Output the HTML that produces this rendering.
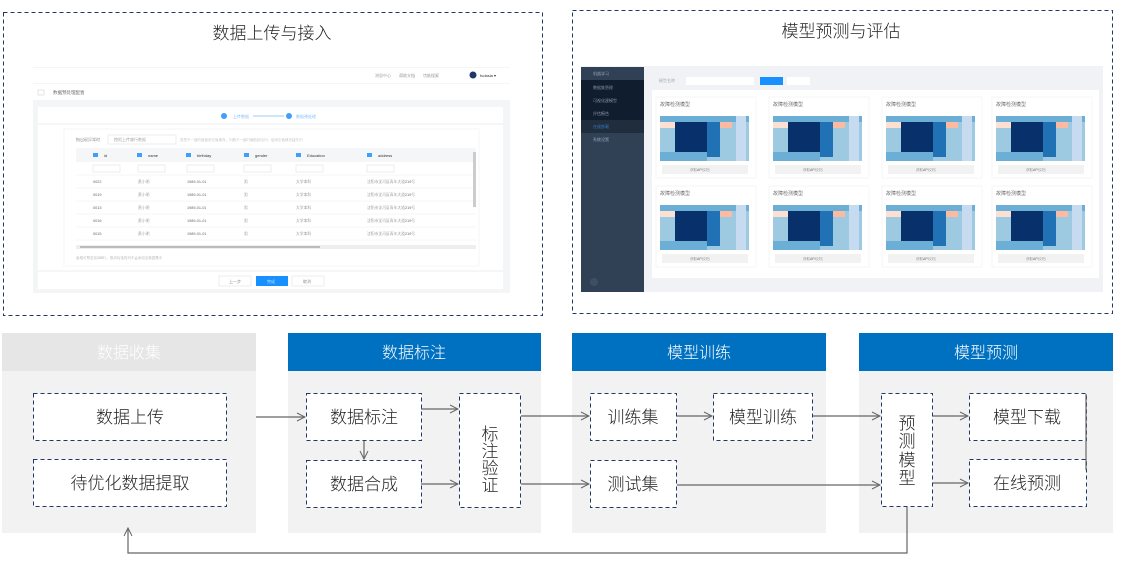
<!DOCTYPE html>
<html><head><meta charset="utf-8"><style>
html,body{margin:0;padding:0;background:#fff;width:1122px;height:561px;overflow:hidden}
text{font-family:"Liberation Sans","Noto Sans CJK SC",sans-serif;font-weight:300}
</style></head><body>
<svg width="1122" height="561" viewBox="0 0 1122 561" xmlns="http://www.w3.org/2000/svg">
<defs>
<marker id="a" markerWidth="10" markerHeight="10" refX="9" refY="5" orient="auto" markerUnits="userSpaceOnUse">
<path d="M1,1 L9,5 L1,9" fill="none" stroke="#666" stroke-width="1"/></marker>
</defs>
<rect x="3.5" y="12.5" width="539" height="303" fill="#fff" stroke="#1f3864" stroke-dasharray="4,3"/>
<rect x="572.5" y="10.5" width="540" height="303" fill="#fff" stroke="#1f3864" stroke-dasharray="4,3"/>
<text x="272" y="39" font-size="17" text-anchor="middle" fill="#222">数据上传与接入</text>
<text x="841" y="37" font-size="17" text-anchor="middle" fill="#222">模型预测与评估</text>

<g>
<rect x="33" y="67" width="477" height="226" fill="#f4f5f7"/>
<rect x="33" y="68" width="477" height="15" fill="#fff"/>
<text x="375" y="77" font-size="4" fill="#666">消息中心　　帮助文档　　功能搜索</text>
<circle cx="473" cy="75" r="3.5" fill="#1f3864"/>
<text x="480" y="77" font-size="4" fill="#333">fudasia ▾</text>
<rect x="33" y="84" width="477" height="16" fill="#fff"/>
<rect x="38" y="90" width="6" height="5" fill="none" stroke="#ccc" stroke-width="0.5"/>
<text x="53" y="94" font-size="4.5" fill="#333">数据预处理配置</text>
<rect x="38" y="107" width="465" height="182" fill="#fff"/>
<circle cx="224" cy="116" r="3" fill="#409eff"/><circle cx="289" cy="116" r="3" fill="#409eff"/>
<line x1="253" y1="116" x2="284" y2="116" stroke="#9ec9f7" stroke-width="1"/>
<text x="233" y="118" font-size="4" fill="#409eff">上传数据</text>
<text x="296" y="118" font-size="4" fill="#409eff">数据预处理</text>
<line x1="38" y1="124" x2="503" y2="124" stroke="#eee"/>
<rect x="64" y="129" width="415" height="137" fill="#fff" stroke="#eee" stroke-width="0.5"/>
<text x="76" y="141" font-size="4" fill="#555">指出现异常时</text>
<rect x="108" y="135" width="68" height="9" fill="#fff" stroke="#ddd" stroke-width="0.5"/>
<text x="114" y="141" font-size="4" fill="#777">按照上传顺行数据</text>
<text x="180" y="141" font-size="3.5" fill="#aaa">类型不一致的值使用空值填充，列数不一致时截断超出列，使用空值填充缺失列</text>
<rect x="76" y="148" width="400" height="14" fill="#f5f6f8"/>
<g font-size="4" fill="#333">
<rect x="93" y="153" width="5" height="4" fill="#409eff"/><text x="104" y="157">id</text>
<rect x="137" y="153" width="5" height="4" fill="#409eff"/><text x="148" y="157">name</text>
<rect x="186" y="153" width="5" height="4" fill="#409eff"/><text x="197" y="157">birthday</text>
<rect x="244" y="153" width="5" height="4" fill="#409eff"/><text x="255" y="157">gender</text>
<rect x="296" y="153" width="5" height="4" fill="#409eff"/><text x="307" y="157">Education</text>
<rect x="367" y="153" width="5" height="4" fill="#409eff"/><text x="378" y="157">address</text>
</g>
<g fill="#fff" stroke="#ddd" stroke-width="0.5">
<rect x="93" y="165" width="27" height="7"/><rect x="138" y="165" width="27" height="7"/><rect x="187" y="165" width="27" height="7"/><rect x="244" y="165" width="27" height="7"/><rect x="296" y="165" width="27" height="7"/><rect x="367" y="165" width="27" height="7"/>
</g>
<g font-size="3.8" fill="#666">
<text x="93" y="183">0022</text><text x="138" y="183">黄小明</text><text x="187" y="183">1989-01-01</text><text x="244" y="183">男</text><text x="296" y="183">大学本科</text><text x="367" y="183">沈阳市沈河区青年大道219号</text>
<text x="93" y="196">0019</text><text x="138" y="196">黄小明</text><text x="187" y="196">1989-01-01</text><text x="244" y="196">男</text><text x="296" y="196">大学本科</text><text x="367" y="196">沈阳市沈河区青年大道219号</text>
<text x="93" y="209">0013</text><text x="138" y="209">黄小明</text><text x="187" y="209">1989-01-01</text><text x="244" y="209">男</text><text x="296" y="209">大学本科</text><text x="367" y="209">沈阳市沈河区青年大道219号</text>
<text x="93" y="222">0016</text><text x="138" y="222">黄小明</text><text x="187" y="222">1989-01-01</text><text x="244" y="222">男</text><text x="296" y="222">大学本科</text><text x="367" y="222">沈阳市沈河区青年大道219号</text>
<text x="93" y="235">0015</text><text x="138" y="235">黄小明</text><text x="187" y="235">1989-01-01</text><text x="244" y="235">男</text><text x="296" y="235">大学本科</text><text x="367" y="235">沈阳市沈河区青年大道219号</text>
</g>
<g stroke="#eee" stroke-width="0.5"><line x1="76" y1="175" x2="476" y2="175"/><line x1="76" y1="188" x2="476" y2="188"/><line x1="76" y1="201" x2="476" y2="201"/><line x1="76" y1="214" x2="476" y2="214"/><line x1="76" y1="227" x2="476" y2="227"/><line x1="76" y1="240" x2="476" y2="240"/></g>
<rect x="76" y="245" width="400" height="4" fill="#eee"/><rect x="80" y="246" width="240" height="2" fill="#bbb"/>
<rect x="473" y="152" width="3" height="55" fill="#ccc"/>
<text x="76" y="259" font-size="3.5" fill="#999">表格可预览前100行，取消勾选的列不会添加至数据集中</text>
<line x1="38" y1="271" x2="503" y2="271" stroke="#eee"/>
<rect x="219" y="276" width="32" height="10" fill="#fff" stroke="#ddd" stroke-width="0.5"/>
<rect x="256" y="276" width="32" height="10" fill="#1890ff"/>
<rect x="292" y="276" width="32" height="10" fill="#fff" stroke="#ddd" stroke-width="0.5"/>
<text x="229" y="283" font-size="4" fill="#555">上一步</text><text x="267" y="283" font-size="4" fill="#fff">完成</text><text x="303" y="283" font-size="4" fill="#555">取消</text>
</g>

<g>
<rect x="581" y="66" width="522" height="226" fill="#f0f2f5"/>
<rect x="581" y="67" width="63" height="225" fill="#304156"/>
<rect x="581" y="80" width="63" height="40" fill="#0f1d2e"/>
<rect x="581" y="120" width="63" height="13" fill="#1f2d3d"/>
<g font-size="4" fill="#bfcbd9">
<text x="593" y="75">机器学习</text><text x="593" y="89">数据集管理</text><text x="593" y="102">可视化建模型</text><text x="593" y="115">评估报告</text>
<text x="593" y="128" fill="#409eff">在线部署</text><text x="593" y="141">系统设置</text></g>
<circle cx="594" cy="282" r="4" fill="#3d4f66"/>
<rect x="652" y="73" width="447" height="14" fill="#f0f2f5"/>
<text x="659" y="82" font-size="4" fill="#888">模型名称</text>
<rect x="686" y="77" width="68" height="8" fill="#fff"/>
<rect x="760" y="77" width="23" height="8" fill="#1890ff"/>
<rect x="787" y="77" width="23" height="8" fill="#fff"/>
<rect x="652" y="90" width="447" height="188" fill="#fff"/>
<g id="card">
<rect x="656" y="97" width="100" height="81" fill="#fff" stroke="#eee" stroke-width="0.5"/>
<text x="660" y="106" font-size="5" fill="#333">故障检测模型</text>
<rect x="660" y="116" width="89" height="45" fill="#9ecae1"/>
<rect x="660" y="116" width="89" height="6" fill="#6baed6"/>
<rect x="675" y="122" width="32" height="30" fill="#08306b"/>
<rect x="707" y="122" width="13" height="35" fill="#2171b5"/>
<rect x="720" y="122" width="12" height="6" fill="#fcbba1"/>
<rect x="736" y="116" width="10" height="45" fill="#c6dbef"/>
<rect x="660" y="122" width="15" height="6" fill="#fde0d2"/>
<rect x="660" y="152" width="47" height="9" fill="#6baed6"/>
<rect x="662" y="165" width="86" height="9" fill="#f2f2f2"/>
<text x="690" y="171" font-size="3.5" fill="#666">获取API文档</text>
</g>
<use href="#card" x="113"/><use href="#card" x="226"/><use href="#card" x="336"/>
<use href="#card" y="89"/><use href="#card" x="113" y="89"/><use href="#card" x="226" y="89"/><use href="#card" x="336" y="89"/>
</g>

<rect x="2" y="333" width="254" height="200" fill="#f2f2f2"/>
<rect x="2" y="333" width="254" height="38" fill="#e6e6e6"/>
<rect x="288" y="333" width="253" height="200" fill="#f2f2f2"/>
<rect x="288" y="333" width="253" height="38" fill="#0070c0"/>
<rect x="572" y="333" width="254" height="200" fill="#f2f2f2"/>
<rect x="572" y="333" width="254" height="38" fill="#0070c0"/>
<rect x="859" y="333" width="254" height="200" fill="#f2f2f2"/>
<rect x="859" y="333" width="254" height="38" fill="#0070c0"/>
<g font-size="16" text-anchor="middle" fill="#fff">
<text x="129" y="358">数据收集</text><text x="414" y="358">数据标注</text><text x="699" y="358">模型训练</text><text x="986" y="358">模型预测</text></g>

<g fill="#fff" stroke="#1f3864" stroke-dasharray="4,3">
<rect x="33.5" y="393.5" width="193" height="47"/>
<rect x="33.5" y="459.5" width="193" height="47"/>
<rect x="306.5" y="393.5" width="115" height="47"/>
<rect x="306.5" y="460.5" width="115" height="47"/>
<rect x="459.5" y="393.5" width="61" height="114"/>
<rect x="590.5" y="393.5" width="86" height="47"/>
<rect x="713.5" y="393.5" width="99" height="47"/>
<rect x="590.5" y="460.5" width="86" height="47"/>
<rect x="881.5" y="393.5" width="51" height="113"/>
<rect x="969.5" y="393.5" width="117" height="47"/>
<rect x="969.5" y="459.5" width="117" height="47"/>
</g>
<g font-size="17" text-anchor="middle" fill="#222">
<text x="130" y="423">数据上传</text>
<text x="130" y="489">待优化数据提取</text>
<text x="364" y="423">数据标注</text>
<text x="364" y="490">数据合成</text>
<text x="633" y="423">训练集</text>
<text x="763" y="423">模型训练</text>
<text x="633" y="490">测试集</text>
<text x="1027" y="423">模型下载</text>
<text x="1027" y="489">在线预测</text>
<text x="490" y="440">标</text><text x="490" y="457">注</text><text x="490" y="474">验</text><text x="490" y="491">证</text>
<text x="907" y="429">预</text><text x="907" y="447">测</text><text x="907" y="466">模</text><text x="907" y="484">型</text>
</g>

<g stroke="#666" stroke-width="1.2" fill="none">
<line x1="256" y1="417" x2="305" y2="417" marker-end="url(#a)"/>
<line x1="421" y1="409" x2="458" y2="409" marker-end="url(#a)"/>
<line x1="421" y1="484" x2="458" y2="484" marker-end="url(#a)"/>
<line x1="364" y1="441" x2="364" y2="459" marker-end="url(#a)"/>
<line x1="521" y1="416" x2="589" y2="416" marker-end="url(#a)"/>
<line x1="521" y1="484" x2="589" y2="484" marker-end="url(#a)"/>
<line x1="677" y1="416" x2="712" y2="416" marker-end="url(#a)"/>
<line x1="813" y1="416" x2="880" y2="416" marker-end="url(#a)"/>
<line x1="677" y1="485" x2="880" y2="485" marker-end="url(#a)"/>
<line x1="933" y1="416" x2="968" y2="416" marker-end="url(#a)"/>
<line x1="933" y1="483" x2="968" y2="483" marker-end="url(#a)"/>
<line x1="1086" y1="394" x2="1086" y2="470"/>
<polyline points="907,507 907,553 128,553 128,528" marker-end="url(#a)"/>
</g>
</svg>
</body></html>
